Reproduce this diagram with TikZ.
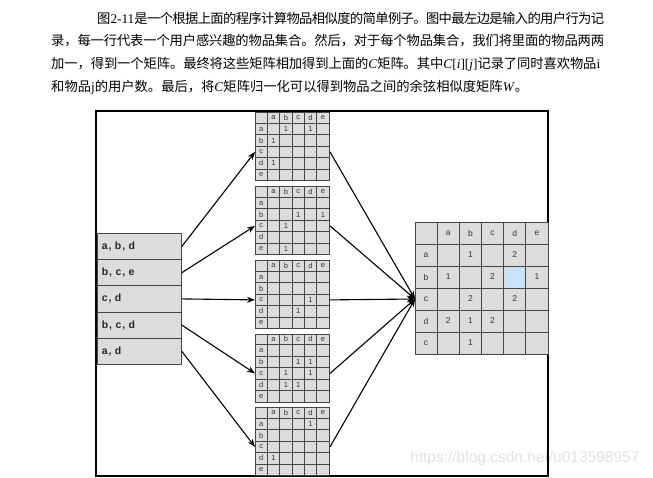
\documentclass[tikz,border=0pt]{standalone}
\usepackage{fontspec}
\setmainfont{Liberation Serif}
\setsansfont{Liberation Sans}
\newfontfamily\cjk{Noto Sans CJK SC}
\usetikzlibrary{arrows.meta,calc}
\newcount\cjkcc
\cjkcc="4E00
\loop
  \XeTeXcharclass\cjkcc=7
  \advance\cjkcc by 1
\ifnum\cjkcc<"A000 \repeat
\XeTeXcharclass"FF0C=7
\XeTeXcharclass"3002=7
\XeTeXinterchartokenstate=1
\newcommand{\cjkglue}{\hskip 0pt plus 3pt minus 1.5pt\relax}
\XeTeXinterchartoks 7 7 = {\cjkglue}
\definecolor{cellfill}{HTML}{DCDCDC}
\definecolor{gridline}{HTML}{454545}
\definecolor{hl}{HTML}{C8E4F7}
\definecolor{wm}{HTML}{E2E2E2}
\definecolor{lbl}{HTML}{333333}
\newcommand{\smat}[3]{%
  \node[smatbox] (#1) at (255,#2) {};
  \foreach \ii in {1,...,5} {
    \draw[smatgrid] (255+12.333*\ii,#2) -- ++(0,68.4);
    \draw[smatgrid] (255,#2+11.4*\ii) -- ++(74,0);
  }
  \foreach \ll [count=\kk] in {a,b,c,d,e} {
    \node[smatlbl] (#1-h\kk) at (261.17+12.333*\kk,#2+5.7) {\ll};
    \node[smatlbl] (#1-r\kk) at (261.17,#2+5.7+11.4*\kk) {\ll};
  }
  \foreach \ri/\ci in {#3} {
    \node[smatlbl] (#1-\ri-\ci) at (261.17+12.333*\ci,#2+5.7+11.4*\ri) {1};
  }
  \coordinate (#1in) at ($(#1.north west)+(0,39.9)$);
  \coordinate (#1out) at ($(#1.north east)+(0,39.9)$);
}
\begin{document}
\begin{tikzpicture}[x=1pt,y=-1pt,
  txt/.style={anchor=west, inner sep=0pt, font=\fontsize{13.3}{15}\selectfont},
  framebox/.style={draw=black, line width=1.1pt},
  lrow/.style={draw=gridline, fill=cellfill, line width=0.8pt, minimum width=84pt,
    minimum height=26.2pt, inner xsep=4.5pt, inner ysep=0pt, text width=75pt, align=left,
    font=\sffamily\bfseries\fontsize{10.5}{12}\selectfont\addfontfeature{LetterSpace=8},
    text=black!85, anchor=north west},
  smatbox/.style={draw=gridline, fill=cellfill, line width=1pt, minimum width=74pt,
    minimum height=68.4pt, inner sep=0pt, anchor=north west},
  smatgrid/.style={draw=gridline, line width=0.9pt},
  smatlbl/.style={font=\sffamily\fontsize{7.5}{8}\selectfont, text=lbl, inner sep=0pt},
  bmatbox/.style={draw=gridline, fill=cellfill, line width=0.9pt, minimum width=133pt,
    minimum height=132pt, inner sep=0pt, anchor=north west},
  bmatlbl/.style={font=\sffamily\fontsize{8.5}{10}\selectfont, text=lbl, inner sep=0pt},
  arr/.style={-{Stealth[length=8pt,width=6pt]}, line width=1.1pt, black},
]
\useasboundingbox (0,0) rectangle (653,477);
\fill[white] (0,0) rectangle (653,477);

% paragraph
\node[txt] (t1) at (97,18) {\makebox[507pt][s]{{\cjk 图}2-11{\cjk 是一个根据上面的程序计算物品相似度的简单例子。图中最左边是输入的用户行为记}}};
\node[txt] (t2) at (51,41) {\makebox[553pt][s]{{\cjk 录，每一行代表一个用户感兴趣的物品集合。然后，对于每个物品集合，我们将里面的物品两两}}};
\node[txt] (t3) at (51,64) {\makebox[549pt][s]{{\cjk 加一，得到一个矩阵。最终将这些矩阵相加得到上面的}\textit{C}{\cjk 矩阵。其中}\textit{C}[\textit{i}][\textit{j}]{\cjk 记录了同时喜欢物品}i}};
\node[txt] (t4) at (51,87) {{\cjk 和物品}j{\cjk 的用户数。最后，将}\textit{C}{\cjk 矩阵归一化可以得到物品之间的余弦相似度矩阵}\textit{W}{\cjk 。}};

% watermark
\node[anchor=west, inner sep=0pt, font=\sffamily\fontsize{15.5}{17}\selectfont, text=wm] (wm) at (410,458) {https://blog.csdn.net/u013598957};

% frame
\draw[framebox] (96,111) rectangle (548,476);

% left list
\node[lrow] (L1) at (97,233) {a, b, d};
\node[lrow] (L2) at (97,259.2) {b, c, e};
\node[lrow] (L3) at (97,285.4) {c, d};
\node[lrow] (L4) at (97,311.6) {b, c, d};
\node[lrow] (L5) at (97,337.8) {a, d};

% small matrices
\smat{m1}{112}{1/2,1/4,2/1,4/1}
\smat{m2}{186}{2/3,2/5,3/2,5/2}
\smat{m3}{260}{3/4,4/3}
\smat{m4}{333.5}{2/3,2/4,3/2,3/4,4/2,4/3}
\smat{m5}{407}{1/4,4/1}

% big matrix
\node[bmatbox] (R) at (415,222) {};
\fill[hl] (415+22.17*4+1.5,222+44+1.5) rectangle (415+22.17*5-0.5,222+66-0.5);
\foreach \ii in {1,...,5} {
  \draw[smatgrid] (415+22.17*\ii,222) -- ++(0,132);
  \draw[smatgrid] (415,222+22*\ii) -- ++(133,0);
}
\foreach \ll [count=\kk] in {a,b,c,d,e} {
  \node[bmatlbl] (R-h\kk) at (426.08+22.17*\kk,233) {\ll};
}
\foreach \ll [count=\kk] in {a,b,c,d,c} {
  \node[bmatlbl] (R-r\kk) at (426.08,233+22*\kk) {\ll};
}
\foreach \ri/\ci/\vv in {1/2/1,1/4/2,2/1/1,2/3/2,2/5/1,3/2/2,3/4/2,4/1/2,4/2/1,4/3/2,5/2/1} {
  \node[bmatlbl] (R-\ri-\ci) at (426.08+22.17*\ci,233+22*\ri) {\vv};
}
\coordinate (Rin) at ($(R.north west)+(0,77)$);

% arrows
\draw[arr] (L1.east) -- (m1in);
\draw[arr] (L2.east) -- (m2in);
\draw[arr] (L3.east) -- (m3in);
\draw[arr] (L4.east) -- (m4in);
\draw[arr] (L5.east) -- (m5in);
\draw[arr] (m1out) -- (Rin);
\draw[arr] (m2out) -- (Rin);
\draw[arr] (m3out) -- (Rin);
\draw[arr] (m4out) -- (Rin);
\draw[arr] (m5out) -- (Rin);
\end{tikzpicture}
\end{document}
